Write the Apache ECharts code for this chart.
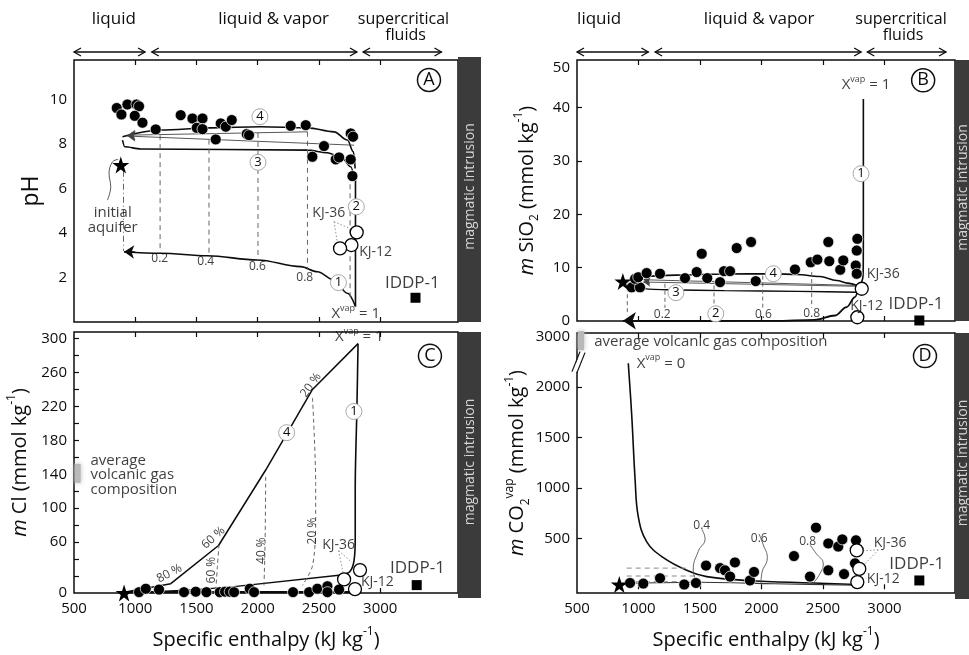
<!DOCTYPE html>
<html>
<head>
<meta charset="utf-8">
<script src="https://cdn.jsdelivr.net/npm/echarts@6/dist/echarts.min.js"></script>
<style>
  html, body { margin: 0; padding: 0; background: #fff; }
  #chart { width: 969px; height: 655px; }
</style>
</head>
<body>
<div id="chart"></div>
<script>
// ---------------- Panel A : pH ----------------
const phSamples = [[849,9.62],[887,9.33],[936,9.78],[1010,9.78],[1031,9.70],[996,9.27],[1059,8.96],[1167,8.66],
  [1371,9.30],[1467,9.15],[1549,9.15],[1502,8.73],[1549,8.67],[1657,8.21],[1698,8.93],[1739,8.78],[1788,9.08],
  [1910,8.45],[1929,8.40],[2269,8.82],[2392,8.85],[2541,7.91],[2446,7.43],[2637,7.31],[2664,7.40],[2759,7.31],
  [2759,8.48],[2778,8.33],[2773,6.56]];
const phKJ = [[2808,4.03],[2765,3.46],[2672,3.31]];
const phAquifer = [[882,7.06]];
const phIDDP = [[3288,1.09]];
const phPath1 = [[2798,0.70],[2732,1.29],[2623,1.89],[2487,2.26],[2351,2.49],[1997,2.79],[1589,2.98],[1208,3.09],[909,3.16]];
const phPath2 = [[2798,0.70],[2798,6.70]];
const phPath3 = [[896,8.18],[914,7.88],[1045,7.78],[2406,7.73],[2569,7.61],[2691,7.36],[2759,6.98],[2792,6.40]];
const phPath4 = [[896,8.33],[1208,8.63],[1616,8.73],[2024,8.78],[2406,8.73],[2623,8.55],[2732,8.18],[2781,7.65],[2795,6.90]];
const phMixing = [[[2406,8.55],[936,8.40]], [[2786,7.95],[936,8.36]]];
const phFractionLines = [[[1203,8.40],[1203,3.09]], [[1602,8.20],[1602,2.98]], [[2002,8.50],[2002,2.79]], [[2406,8.55],[2406,2.40]], [[2754,6.60],[2754,1.00]]];
const phAquiferDrop = [[904,6.80],[904,3.20]];
const phFractionTags = [[1200,2.83,'0.2'],[1576,2.71,'0.4'],[1997,2.49,'0.6'],[2384,1.99,'0.8']];
const phKJLeaders = [[[2623,4.51],[2651,3.54]], [[2623,4.51],[2786,4.13]]];
const phAquiferLeader = [[860,7.31],[814,7.20],[786,6.68],[800,6.08],[773,5.48]];

// ---------------- Panel B : SiO2 ----------------
const siSamples = [[945,6.30],[1012,6.30],[972,7.90],[998,8.20],[1066,8.97],[1175,8.85],[1378,8.03],[1473,9.16],
  [1514,12.6],[1559,8.03],[1663,7.28],[1695,9.34],[1744,9.34],[1798,13.66],[1915,14.8],[1953,7.47],[2272,9.66],
  [2400,11.0],[2454,11.5],[2543,14.8],[2551,11.2],[2640,9.60],[2665,11.35],[2779,15.4],[2774,13.2],[2766,10.4],[2774,8.85]];
const siKJ = [[2815,6.04],[2779,0.70]];
const siAquifer = [[873,7.40]];
const siIDDP = [[3283,0.10]];
const siPath1 = [[2828,41.6],[2828,20.0],[2827,10.0],[2822,7.9],[2800,6.7]];
const siPath2 = [[2790,6.50],[2760,4.47],[2692,2.60],[2597,1.03],[2434,0.22],[2108,0.03],[1500,0],[1000,0]];
const siPath3 = [[2780,5.40],[2300,5.55],[1700,5.70],[1229,5.85],[931,6.20]];
const siPath4 = [[2780,6.60],[2700,7.10],[2611,7.60],[2475,8.35],[2286,8.72],[2100,8.85],[1700,8.80],[1300,8.60],[1000,8.30],[930,7.90]];
const siMixing = [[[2780,6.66],[1039,7.73]], [[2780,6.50],[1039,7.30]]];
const siFractionLines = [[[909,6.34],[909,1.03]], [[1215,6.98],[1215,2.47]], [[1614,6.66],[1614,2.60]], [[2010,8.50],[2010,2.30]], [[2408,9.16],[2408,2.47]]];
const siFractionTags = [[1193,1.16,'0.2'],[2015,1.16,'0.6'],[2408,1.35,'0.8']];

// ---------------- Panel C : Cl ----------------
const clSamples = [[1031,1],[1086,5],[1194,4],[1398,1],[1494,1.5],[1581,1],[1690,1],[1733,1.5],[1771,1.5],[1807,1],
  [1935,5],[1970,1],[2288,1],[2419,1],[2487,5],[2569,8],[2569,1],[2664,4]];
const clKJ = [[2705,16],[2835,27],[2794,4.6]];
const clAquifer = [[909,0]];
const clIDDP = [[3298,9.3]];
const clPath4 = [[909,1],[1100,6],[1290,11],[1680,56],[2065,145],[2447,240],[2819,294]];
const clPath1 = [[2819,294],[2810,220],[2796,123],[2796,65],[2786,38],[2751,25],[2683,21]];
const clPath3 = [[2700,21.5],[1807,7.5],[1500,4],[1200,2],[950,1]];
const clBase = [[909,1],[2780,1]];
const clFractionLines = [
  [[1684,57],[1670,30],[1657,1.5]],
  [[2065,137],[2060,60],[2051,9]],
  [[2447,230],[2473,129],[2473,83],[2447,32],[2365,9]]
];
const clPercentTags = [[1279,23,'80 %',28],[1638,65,'60 %',42],[2434,245,'20 %',55],[1627,27,'60 %',90],[2035,50,'40 %',90],[2447,73,'20 %',90]];
const clKJLeaders = [[[2660,50],[2701,21]], [[2660,50],[2770,36]]];

// ---------------- Panel D : CO2 vapour ----------------
const coSamples = [[931,62],[1039,56],[1175,109],[1372,47],[1467,62],[1549,234],[1663,209],[1703,187],[1744,125],
  [1784,265],[1906,87],[1939,171],[2264,328],[2394,125],[2443,609],[2543,453],[2543,187],[2624,422],[2657,493],
  [2671,150],[2768,484],[2760,256]];
const coKJ = [[2774,384],[2795,202],[2779,71]];
const coAquifer = [[844,47]];
const coIDDP = [[3283,87]];
const coPath0 = [[917,2234],[945,1718],[972,1093],[998,718],[1067,469],[1202,312],[1392,187],[1554,125],[1880,87],[2421,62],[2774,47]];
const coBase = [[900,60],[1500,70],[2100,55],[2774,40]];
const coDashes = [[[904,209],[1400,209]], [[904,131],[1500,131]], [[904,75],[1445,75]]];
const coLeaders = [
  [[1514,593],[1541,500],[1486,375],[1445,187],[1473,78]],
  [[1980,546],[2015,437],[2047,312],[2002,156],[1996,62]],
  [[2394,440],[2440,360],[2502,249],[2476,156],[2421,62]]
];
const coFractionTags = [[1514,631,'0.4'],[1982,500,'0.6'],[2375,474,'0.8']];
const coKJLeaders = [[[2950,390],[2828,380]], [[2950,390],[2828,234]]];

// ---------------- axes ----------------
const X_TICKS = [1000, 1500, 2000, 2500, 3000];
const X_LABELS = [500, 1000, 1500, 2000, 2500, 3000];
const PHASES = [['liquid',500,1080],['liquid & vapor',1135,2810],['supercritical',2860,3500]];

const FONT = '"Open Sans", "Noto Sans", sans-serif';
const INK = '#0c0c0c';
const GREY = '#666';
const WEIGHT = 500;

const GRIDS = [
  { left: 74,  top: 60,  width: 384, height: 262 },
  { left: 577, top: 60,  width: 378, height: 261 },
  { left: 74,  top: 332, width: 384, height: 266 },
  { left: 577, top: 333, width: 378, height: 266 }
];
const X_RANGE = [[500,3635],[500,3573],[500,3635],[500,3573]];
const Y_RANGE = [[0,11.78],[0,48.9],[0,307.7],[-37,2533]];
const Y_AXES = [
  { labels: [2,4,6,8,10], ticks: [], fmt: v => String(v), name: 'pH', gap: 28 },
  { labels: [0,10,20,30,40,47.4], ticks: [10,20,30,40], fmt: v => v > 45 ? '50' : String(v),
    name: '{it|m} SiO{sub|2} (mmol kg{sup|-1})', gap: 36 },
  { labels: [0,60,100,140,180,220,260,300], ticks: [20,40,60,80,100,120,140,160,180,200,220,240,260,280,300],
    fmt: v => String(v), name: '{it|m} Cl (mmol kg{sup|-1})', gap: 40 },
  { labels: [500,1000,1500,2000,2500], ticks: [500,1000,1500,2000], fmt: v => v === 2500 ? '3000' : String(v),
    name: '{it|m} CO{sub|2}{sup|vap} (mmol kg{sup|-1})', gap: 43 }
];

const NAME_RICH = {
  it:  { fontFamily: FONT, fontSize: 20, fontStyle: 'italic', fontWeight: WEIGHT, color: INK, lineHeight: 28 },
  sub: { fontFamily: FONT, fontSize: 12, fontWeight: WEIGHT, color: INK, verticalAlign: 'bottom', lineHeight: 12 },
  sup: { fontFamily: FONT, fontSize: 12, fontWeight: WEIGHT, color: INK, verticalAlign: 'top', lineHeight: 12 }
};
const TEXT_RICH = {
  sup: { fontFamily: FONT, fontSize: 9, fontWeight: WEIGHT, color: INK, verticalAlign: 'top', lineHeight: 9 }
};

const xAxis = [], yAxis = [];
for (let g = 0; g < 4; g++) {
  const lower = g >= 2;
  xAxis.push({
    type: 'value', gridIndex: g, min: X_RANGE[g][0], max: X_RANGE[g][1], position: 'bottom',
    axisLine: { show: false }, splitLine: { show: false },
    axisTick: { show: true, inside: true, length: 5, customValues: X_TICKS, lineStyle: { color: INK, width: 1.2 } },
    axisLabel: { show: lower, customValues: X_LABELS, formatter: v => String(v), fontFamily: FONT, fontWeight: WEIGHT, fontSize: 15, color: INK, margin: 8 },
    name: lower ? 'Specific enthalpy (kJ kg{sup|-1})' : '', nameLocation: 'middle', nameGap: 33,
    nameTextStyle: { fontFamily: FONT, fontWeight: WEIGHT, fontSize: 20, color: INK, lineHeight: 28, rich: NAME_RICH }
  });
}
for (let g = 0; g < 4; g++) {
  xAxis.push({
    type: 'value', gridIndex: g, min: X_RANGE[g][0], max: X_RANGE[g][1], position: 'top',
    axisLine: { show: false }, splitLine: { show: false }, axisLabel: { show: false },
    axisTick: { show: true, inside: true, length: 5, customValues: X_TICKS, lineStyle: { color: INK, width: 1.2 } }
  });
}
for (let g = 0; g < 4; g++) {
  const ya = Y_AXES[g];
  yAxis.push({
    type: 'value', gridIndex: g, min: Y_RANGE[g][0], max: Y_RANGE[g][1],
    axisLine: { show: false }, splitLine: { show: false },
    axisTick: { show: ya.ticks.length > 0, inside: true, length: 5, customValues: ya.ticks, lineStyle: { color: INK, width: 1.2 } },
    axisLabel: { customValues: ya.labels, formatter: ya.fmt, fontFamily: FONT, fontWeight: WEIGHT, fontSize: 15, color: INK, margin: 7 },
    name: ya.name, nameLocation: 'middle', nameRotate: 90, nameGap: ya.gap,
    nameTextStyle: { fontFamily: FONT, fontWeight: WEIGHT, fontSize: g === 0 ? 23 : 20, color: INK, lineHeight: 28, rich: NAME_RICH }
  });
}

// ---------------- series helpers ----------------
const series = [];
const STAR = 'path://M50,0 L61.8,35.1 L98.9,35.1 L68.9,56.8 L80.3,91.9 L50,70.2 L19.7,91.9 L31.1,56.8 L1.1,35.1 L38.2,35.1 Z';
const MARKS = {
  sample:  { symbol: 'circle', symbolSize: 11, itemStyle: { color: '#000', borderColor: '#fff', borderWidth: 0.7, opacity: 1 } },
  kj:      { symbol: 'circle', symbolSize: 13, itemStyle: { color: '#fff', borderColor: '#000', borderWidth: 1.3, opacity: 1 } },
  aquifer: { symbol: STAR, symbolSize: 17, itemStyle: { color: '#000', opacity: 1 } },
  iddp:    { symbol: 'rect', symbolSize: 10, itemStyle: { color: '#000', opacity: 1 } }
};
function marks(g, data, kind) {
  series.push(Object.assign({ type: 'scatter', xAxisIndex: g, yAxisIndex: g, data, z: 10, silent: true, clip: false }, MARKS[kind]));
}
function curve(g, data, o = {}) {
  series.push({
    type: 'line', xAxisIndex: g, yAxisIndex: g, data, symbol: 'none', silent: true, clip: false,
    smooth: o.smooth || false, smoothMonotone: o.mono || null, z: o.z || 5,
    lineStyle: { color: o.color || INK, width: o.width || 1.6, type: o.type || 'solid' }
  });
}
function arrowHead(g, from, to, o = {}) {
  series.push({
    type: 'lines', coordinateSystem: 'cartesian2d', xAxisIndex: g, yAxisIndex: g, silent: true, z: 6, clip: false,
    symbol: ['none', 'arrow'], symbolSize: o.size || 9,
    lineStyle: { color: o.color || INK, width: o.width || 1.2, opacity: 1 },
    data: [{ coords: [from, to] }]
  });
}
function texts(g, list) {
  series.push({
    type: 'scatter', xAxisIndex: g, yAxisIndex: g, symbolSize: 0, silent: true, z: 20, clip: false,
    data: list.map(t => ({
      value: [t.x, t.y],
      label: {
        show: true, position: 'inside', formatter: () => t.text,
        fontFamily: FONT, fontSize: t.size || 14, fontWeight: WEIGHT, color: INK,
        align: t.align || 'center', verticalAlign: 'middle', rotate: t.rotate || 0,
        lineHeight: t.lh || 18, rich: TEXT_RICH
      }
    }))
  });
}
function circled(g, list, strong) {
  series.push({
    type: 'scatter', xAxisIndex: g, yAxisIndex: g, symbol: 'circle', symbolSize: strong ? 23 : 16,
    silent: true, z: 18, clip: false,
    itemStyle: { color: '#fff', borderColor: strong ? '#111' : '#a8a8a8', borderWidth: strong ? 1.5 : 1, opacity: 1 },
    data: list.map(t => ({
      value: [t[0], t[1]],
      label: { show: true, position: 'inside', formatter: () => t[2], fontFamily: FONT, fontWeight: WEIGHT,
               fontSize: strong ? 18 : 13, color: INK }
    }))
  });
}
function gasBar(g, x, y) {
  series.push({
    type: 'scatter', xAxisIndex: g, yAxisIndex: g, symbol: 'rect', symbolSize: [6, 19], silent: true, clip: false, z: 4,
    itemStyle: { color: '#b9b9b9', shadowBlur: 5, shadowColor: '#bbb', opacity: 1 }, data: [[x, y]]
  });
}

// ---------------- Panel A ----------------
curve(0, phPath1, { smooth: 0.35, mono: 'x' });
curve(0, phPath2);
curve(0, phPath3, { smooth: 0.3, mono: 'x' });
curve(0, phPath4, { smooth: 0.35, mono: 'x' });
phMixing.forEach(s => arrowHead(0, s[0], s[1], { color: '#444', width: 0.9, size: 8 }));
arrowHead(0, [1000, 3.145], phPath1[phPath1.length - 1], { size: 10, width: 1.6 });
phFractionLines.forEach(s => curve(0, s, { color: GREY, width: 1, type: [5, 4] }));
curve(0, phAquiferDrop, { color: GREY, width: 1, type: [6, 3, 1, 3] });
phKJLeaders.forEach(s => curve(0, s, { color: '#888', width: 0.9, type: [1.5, 2] }));
curve(0, phAquiferLeader, { smooth: 0.4, color: '#444', width: 0.9 });
marks(0, phSamples, 'sample');
marks(0, phKJ, 'kj');
marks(0, phAquifer, 'aquifer');
marks(0, phIDDP, 'iddp');
texts(0, phFractionTags.map(t => ({ x: t[0], y: t[1], text: t[2], size: 12 })));
texts(0, [
  { x: 2580, y: 4.91, text: 'KJ-36', size: 14 },
  { x: 2963, y: 3.13, text: 'KJ-12', size: 14 },
  { x: 2800, y: 0.36, text: 'X{sup|vap} = 1', size: 15, lh: 20 },
  { x: 3262, y: 1.74, text: 'IDDP-1', size: 17 },
  { x: 816, y: 4.90, text: 'initial', size: 15 },
  { x: 816, y: 4.22, text: 'aquifer', size: 15 }
]);
circled(0, [[2018,9.23,'4'],[2002,7.18,'3'],[2805,5.18,'2'],[2659,1.77,'1']]);
circled(0, [[3398,10.88,'A']], true);

// ---------------- Panel B ----------------
curve(1, siPath1, { smooth: 0.3 });
curve(1, siPath2, { smooth: 0.35, mono: 'x', width: 1.8 });
arrowHead(1, [1000, 0.05], [873, 0.05], { size: 13, width: 1.8 });
curve(1, siPath3, { smooth: 0.2, mono: 'x', width: 1.4 });
curve(1, siPath4, { smooth: 0.35, mono: 'x' });
siMixing.forEach(s => arrowHead(1, s[0], s[1], { color: '#444', width: 0.9, size: 7 }));
siFractionLines.forEach(s => curve(1, s, { color: GREY, width: 1, type: [4, 3] }));
marks(1, siSamples, 'sample');
marks(1, siKJ, 'kj');
marks(1, siAquifer, 'aquifer');
marks(1, siIDDP, 'iddp');
texts(1, siFractionTags.map(t => ({ x: t[0], y: t[1], text: t[2], size: 12 })));
texts(1, [
  { x: 2849, y: 44.2, text: 'X{sup|vap} = 1', size: 15, lh: 20 },
  { x: 2990, y: 8.85, text: 'KJ-36', size: 14 },
  { x: 2855, y: 2.9, text: 'KJ-12', size: 14 },
  { x: 3256, y: 3.2, text: 'IDDP-1', size: 17 }
]);
circled(1, [[2809,27.6,'1'],[1304,5.3,'3'],[2096,8.85,'4'],[1628,1.35,'2']]);
circled(1, [[3314,45.1,'B']], true);

// ---------------- Panel C ----------------
curve(2, clPath4, { width: 1.5 });
curve(2, clPath1, { smooth: 0.3, width: 1.6 });
curve(2, clPath3, { width: 1.3 });
curve(2, clBase, { width: 2.4 });
clFractionLines.forEach(s => curve(2, s, { smooth: 0.3, color: GREY, width: 1, type: [4, 3] }));
clKJLeaders.forEach(s => curve(2, s, { color: '#888', width: 0.9, type: [1.5, 2] }));
gasBar(2, 530, 141);
marks(2, clSamples, 'sample');
marks(2, clKJ, 'kj');
marks(2, clAquifer, 'aquifer');
marks(2, clIDDP, 'iddp');
texts(2, clPercentTags.map(t => ({ x: t[0], y: t[1], text: t[2], size: 12, rotate: t[3] })));
texts(2, [
  { x: 2829, y: 302, text: 'X{sup|vap} = 1', size: 15, lh: 20 },
  { x: 2660, y: 56, text: 'KJ-36', size: 14 },
  { x: 2977, y: 13, text: 'KJ-12', size: 14 },
  { x: 3304, y: 28.7, text: 'IDDP-1', size: 17 },
  { x: 635, y: 156, text: 'average', size: 15, align: 'left' },
  { x: 635, y: 140, text: 'volcanic gas', size: 15, align: 'left' },
  { x: 635, y: 122, text: 'composition', size: 15, align: 'left' }
]);
circled(2, [[2236,189,'4'],[2785,214,'1']]);
circled(2, [[3406,279.6,'C']], true);

// ---------------- Panel D ----------------
curve(3, coPath0, { smooth: 0.4, width: 1.6 });
curve(3, coBase, { smooth: 0.3, width: 1.1, color: '#333' });
coDashes.forEach(s => curve(3, s, { color: '#888', width: 1, type: [5, 4] }));
coLeaders.forEach(s => curve(3, s, { smooth: 0.5, color: '#555', width: 0.9 }));
coKJLeaders.forEach(s => curve(3, s, { color: '#888', width: 0.9, type: [1.5, 2] }));
gasBar(3, 533, 2458);
marks(3, coSamples, 'sample');
marks(3, coKJ, 'kj');
marks(3, coAquifer, 'aquifer');
marks(3, coIDDP, 'iddp');
texts(3, coFractionTags.map(t => ({ x: t[0], y: t[1], text: t[2], size: 12 })));
texts(3, [
  { x: 985, y: 2234, text: 'X{sup|vap} = 0', size: 15, align: 'left', lh: 20 },
  { x: 640, y: 2442, text: 'average volcanic gas composition', size: 15, align: 'left' },
  { x: 3045, y: 459, text: 'KJ-36', size: 14 },
  { x: 2990, y: 99, text: 'KJ-12', size: 14 },
  { x: 3262, y: 249, text: 'IDDP-1', size: 17 }
]);
circled(3, [[3329,2305,'D']], true);

// ---------------- chart ----------------
const chart = echarts.init(document.getElementById('chart'), null, { renderer: 'canvas' });
chart.setOption({
  animation: false,
  backgroundColor: '#fff',
  grid: GRIDS.map(g => Object.assign({ show: true, borderColor: INK, borderWidth: 1.5, backgroundColor: '#fff' }, g)),
  xAxis, yAxis, series
});

// header arrows, side bars and the axis break
const graphics = [];
function hArrow(x1, x2, y) {
  const h = 4, w = 7;
  graphics.push({ type: 'line', shape: { x1, y1: y, x2, y2: y }, style: { stroke: INK, lineWidth: 1.3 }, silent: true });
  graphics.push({ type: 'polyline', shape: { points: [[x1 + w, y - h], [x1, y], [x1 + w, y + h]] }, style: { stroke: INK, lineWidth: 1.3, fill: null }, silent: true });
  graphics.push({ type: 'polyline', shape: { points: [[x2 - w, y - h], [x2, y], [x2 - w, y + h]] }, style: { stroke: INK, lineWidth: 1.3, fill: null }, silent: true });
}
function label(x, y, text, size, extra) {
  graphics.push(Object.assign({ type: 'text', x, y, silent: true,
    style: { text, fontFamily: FONT, fontWeight: WEIGHT, fontSize: size, fill: INK, align: 'center', verticalAlign: 'middle' } }, extra || {}));
}
const HEADER_TEXT = [
  [825, 2130, 3190],
  [680, 1980, 3134]
];
[0, 1].forEach(g => {
  const px = v => chart.convertToPixel({ xAxisIndex: g }, v);
  PHASES.forEach(p => hArrow(px(p[1]), px(p[2]), 52));
  const t = HEADER_TEXT[g];
  label(px(t[0]), 19, 'liquid', 17);
  label(px(t[1]), 19, 'liquid & vapor', 17);
  label(px(t[2]), 19, 'supercritical', 16);
  label(px(t[2]) + 2, 35, 'fluids', 16);
});
GRIDS.forEach((g, i) => {
  const w = i % 2 === 0 ? 23 : 14;
  const x = g.left + g.width, y = g.top - (i === 0 ? 3 : 0);
  const h = g.height + (i === 0 ? 3 : 0);
  graphics.push({ type: 'rect', shape: { x, y, width: w, height: h }, style: { fill: '#3b3b3b' }, silent: true });
  graphics.push({ type: 'text', x: x + w / 2 + 1, y: y + h / 2 - 3, rotation: Math.PI / 2, silent: true,
    style: { text: 'magmatic intrusion', fontFamily: FONT, fontSize: 14, fill: '#d6d6d6', align: 'center', verticalAlign: 'middle' } });
});
(function axisBreak() {
  const x = GRIDS[3].left;
  const y = chart.convertToPixel({ yAxisIndex: 3 }, 2250);
  graphics.push({ type: 'polygon', shape: { points: [[x - 4, y + 10], [x + 1, y + 10], [x + 8, y - 10], [x + 3, y - 10]] }, style: { fill: '#fff' }, silent: true, z: 50 });
  graphics.push({ type: 'line', shape: { x1: x - 5, y1: y + 10, x2: x + 3, y2: y - 10 }, style: { stroke: INK, lineWidth: 1.2 }, silent: true, z: 51 });
  graphics.push({ type: 'line', shape: { x1: x, y1: y + 11, x2: x + 8, y2: y - 9 }, style: { stroke: INK, lineWidth: 1.2 }, silent: true, z: 51 });
})();
chart.setOption({ graphic: graphics });
</script>
</body>
</html>
